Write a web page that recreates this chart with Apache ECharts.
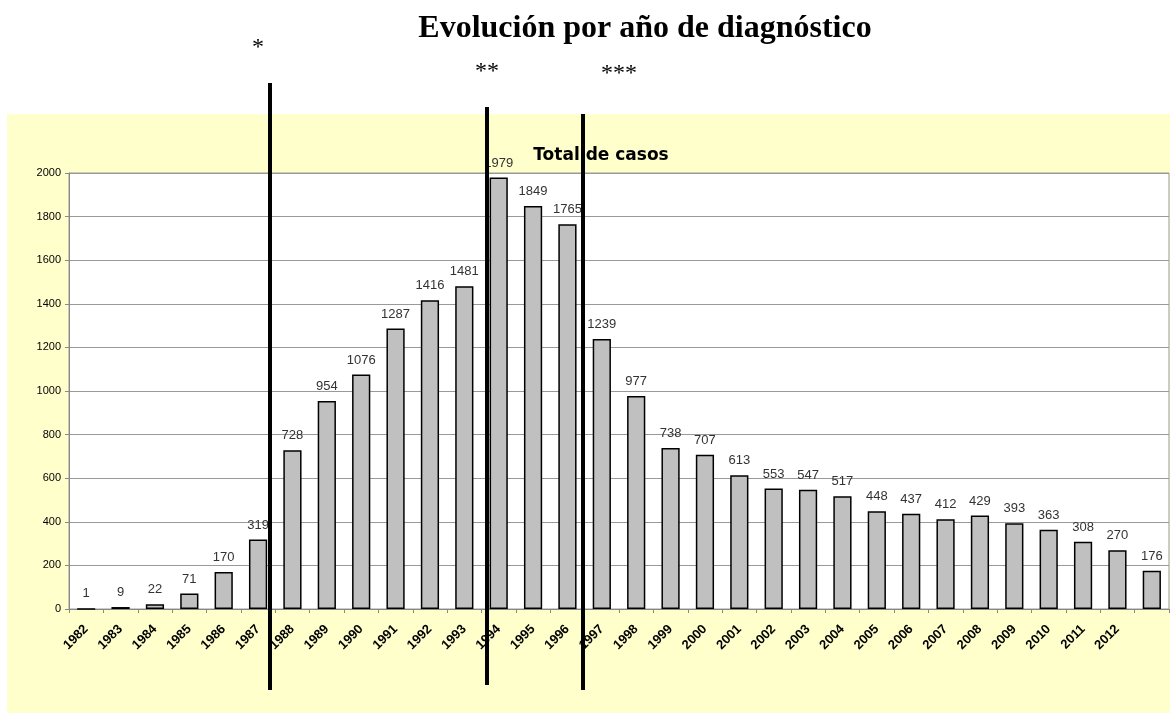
<!DOCTYPE html>
<html>
<head>
    <meta charset="utf-8">
    <script src="https://cdn.jsdelivr.net/npm/echarts@6/dist/echarts.min.js"></script>
    <style>
        body { margin: 0; background: #ffffff; }
    </style>
</head>
<body>
    <div id="main" style="width: 1170px;height:714px;"></div>
    <script type="text/javascript">
        var myChart = echarts.init(document.getElementById('main'));

        // datos: casos por año de diagnóstico
        var years = ['1982', '1983', '1984', '1985', '1986', '1987', '1988', '1989', '1990', '1991',
            '1992', '1993', '1994', '1995', '1996', '1997', '1998', '1999', '2000', '2001',
            '2002', '2003', '2004', '2005', '2006', '2007', '2008', '2009', '2010', '2011',
            '2012', '2013'];
        // el último año no lleva etiqueta en el original
        var yearLabels = years.slice(0, 31).concat(['']);
        var casos = [1, 9, 22, 71, 170, 319, 728, 954, 1076, 1287,
            1416, 1481, 1979, 1849, 1765, 1239, 977, 738, 707, 613,
            553, 547, 517, 448, 437, 412, 429, 393, 363, 308,
            270, 176];
        var yTicks = [0, 2000, 200];

        var option = {
            backgroundColor: '#ffffff',
            animation: false,
            title: [{
                text: 'Total de casos',
                left: 596,
                top: 142,
                textAlign: 'center',
                textStyle: {
                    fontFamily: 'DejaVu Sans',
                    fontWeight: 'bold',
                    fontSize: 17,
                    color: '#000'
                },
                z: 5
            }],
            graphic: [
                // fondo amarillo
                { type: 'rect', z: -10, shape: { x: 7, y: 114, width: 1170, height: 599 },
                  style: { fill: '#FFFFCC' } },
                { type: 'text',
                  style: { x: 645, y: 13, text: 'Evolución por año de diagnóstico', textAlign: 'center',
                           font: 'bold 32px "Liberation Serif"', fill: '#000' } },
                { type: 'text', style: { x: 258, y: 36, text: '*', textAlign: 'center',
                           font: '24px "Liberation Serif"', fill: '#000' } },
                { type: 'text', style: { x: 487, y: 60, text: '**', textAlign: 'center',
                           font: '24px "Liberation Serif"', fill: '#000' } },
                { type: 'text', style: { x: 619, y: 62, text: '***', textAlign: 'center',
                           font: '24px "Liberation Serif"', fill: '#000' } },
                // líneas verticales
                { type: 'line', z: 100, shape: { x1: 270, y1: 83, x2: 270, y2: 690 },
                  style: { stroke: '#000', lineWidth: 4 } },
                { type: 'line', z: 100, shape: { x1: 487, y1: 107, x2: 487, y2: 685 },
                  style: { stroke: '#000', lineWidth: 4 } },
                { type: 'line', z: 100, shape: { x1: 583, y1: 114, x2: 583, y2: 690 },
                  style: { stroke: '#000', lineWidth: 4 } }
            ],
            grid: {
                left: 69,
                top: 173,
                width: 1100,
                height: 436,
                show: true,
                backgroundColor: '#ffffff',
                borderColor: '#999999',
                borderWidth: 1
            },
            xAxis: {
                type: 'category',
                data: yearLabels,
                axisLine: { lineStyle: { color: '#888888', width: 1 } },
                axisTick: { show: true, alignWithLabel: false, length: 4, lineStyle: { color: '#888888' } },
                axisLabel: {
                    rotate: 45,
                    interval: 0,
                    margin: 18,
                    fontFamily: 'Liberation Sans',
                    fontWeight: 'bold',
                    fontSize: 13,
                    color: '#000'
                }
            },
            yAxis: {
                type: 'value',
                min: yTicks[0],
                max: yTicks[1],
                interval: yTicks[2],
                axisLine: { show: true, lineStyle: { color: '#888888' } },
                axisTick: { show: true, length: 4, lineStyle: { color: '#888888' } },
                splitLine: { lineStyle: { color: '#999999', width: 1 } },
                axisLabel: {
                    margin: 8,
                    fontFamily: 'Liberation Sans',
                    fontSize: 11,
                    color: '#000',
                    formatter: function (v) { return String(v); }
                }
            },
            series: [{
                type: 'bar',
                data: casos,
                barCategoryGap: '47%',
                itemStyle: {
                    color: '#C0C0C0',
                    borderColor: '#000000',
                    borderWidth: 1.5
                },
                label: {
                    show: true,
                    position: 'top',
                    distance: 8,
                    fontFamily: 'Liberation Sans',
                    fontSize: 13,
                    color: '#333333'
                }
            }]
        };

        myChart.setOption(option);
    </script>
</body>
</html>
